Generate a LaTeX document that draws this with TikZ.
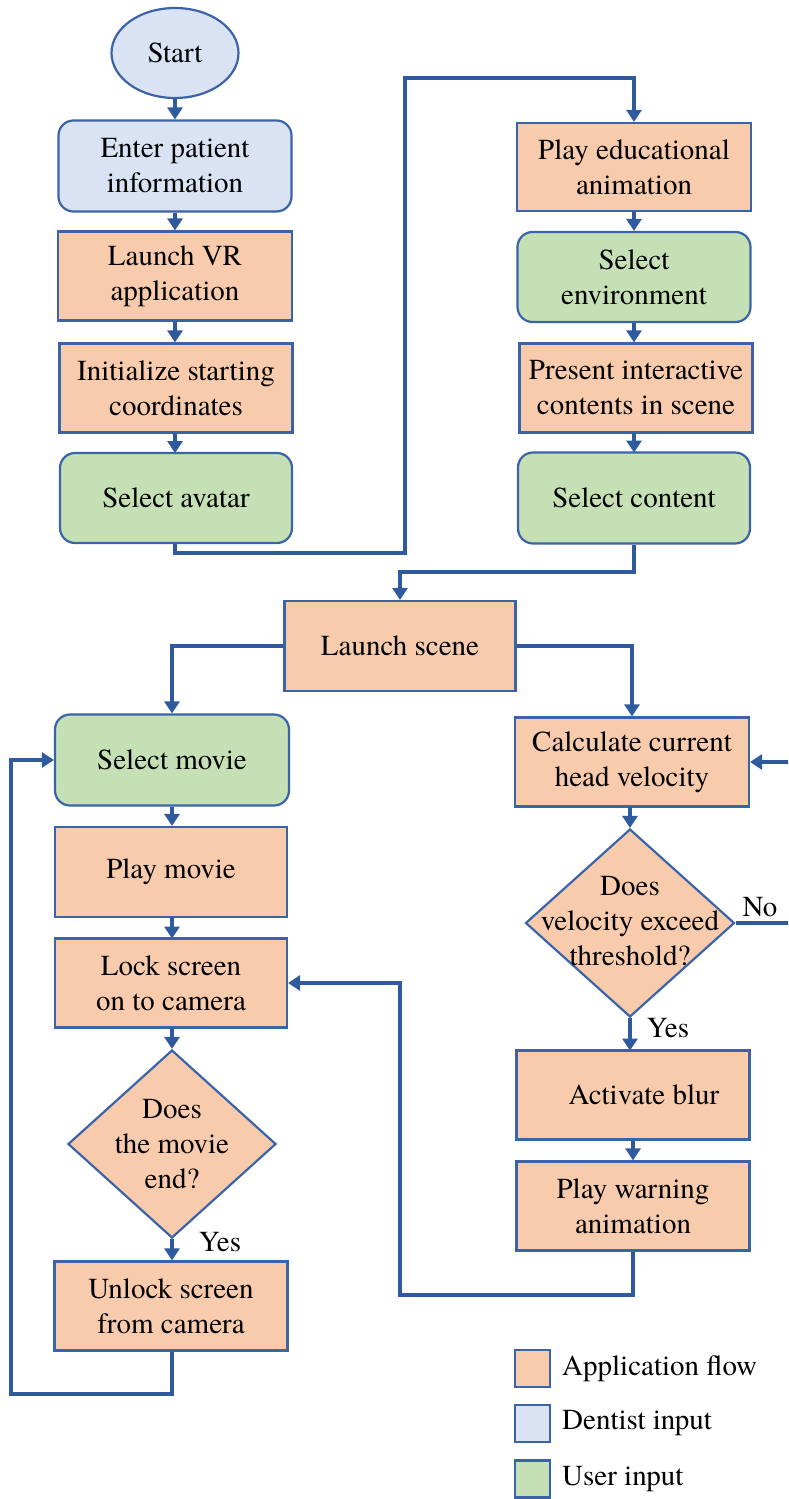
\documentclass[tikz,border=0pt]{standalone}
\usepackage{fontspec}
\setmainfont{TeX Gyre Termes}
\usetikzlibrary{shapes.geometric,arrows.meta}
\definecolor{appfill}{HTML}{F8CBAD}
\definecolor{dentfill}{HTML}{DAE3F3}
\definecolor{userfill}{HTML}{C5E0B4}
\definecolor{edgeblue}{HTML}{3B64A8}
\definecolor{linkblue}{HTML}{2F5A9E}
\begin{document}
\begin{tikzpicture}[x=1pt,y=-1pt,
  font=\fontsize{29}{35}\selectfont,
  basebox/.style={draw=edgeblue, line width=2.2pt, align=center, inner sep=0pt},
  appbox/.style={basebox, fill=appfill, rectangle},
  dentbox/.style={basebox, fill=dentfill, rectangle, rounded corners=15pt},
  userbox/.style={basebox, fill=userfill, rectangle, rounded corners=15pt},
  decbox/.style={draw=edgeblue, line width=2.2pt, fill=appfill, diamond, inner sep=0pt},
  lbl/.style={inner sep=0pt, align=center},
  link/.style={draw=linkblue, line width=3.5pt},
  arr/.style={link, -{Triangle[width=15pt,length=12pt]}},
  legbox/.style={draw=edgeblue, line width=2.2pt, minimum width=35pt, minimum height=37pt, inner sep=0pt}
]
\useasboundingbox (0,0) rectangle (788,1499);
\clip (0,0) rectangle (788,1499);

% left top column
\node[basebox, fill=dentfill, ellipse, minimum width=127pt, minimum height=90pt] (start) at (175,53) {Start};
\node[dentbox, minimum width=233pt, minimum height=91pt] (enter) at (175,166) {Enter patient\\information};
\node[appbox, minimum width=234pt, minimum height=89pt] (launchvr) at (175,276) {Launch VR\\application};
\node[appbox, minimum width=233pt, minimum height=89pt] (init) at (176,388) {Initialize starting\\coordinates};
\node[userbox, minimum width=232pt, minimum height=90pt] (avatar) at (176,498) {Select avatar};

% right top column
\node[appbox, minimum width=234pt, minimum height=88pt] (playedu) at (634,167) {Play educational\\animation};
\node[userbox, minimum width=233pt, minimum height=90pt] (selenv) at (634,277) {Select\\environment};
\node[appbox, minimum width=233pt, minimum height=89pt] (present) at (636,388) {Present interactive\\contents in scene};
\node[userbox, minimum width=232pt, minimum height=91pt] (selcontent) at (634,498) {Select content};

% middle
\node[appbox, minimum width=231pt, minimum height=90pt] (launchscene) at (400,646) {Launch scene};

% left bottom column
\node[userbox, minimum width=234pt, minimum height=91pt] (selmovie) at (172,760) {Select movie};
\node[appbox, minimum width=232pt, minimum height=90pt] (playmovie) at (171,872) {Play movie};
\node[appbox, minimum width=232pt, minimum height=89pt] (lock) at (171,983) {Lock screen\\on to camera};
\node[decbox, minimum width=208pt, minimum height=188pt] (dmovie) at (172,1144) {};
\node[lbl] (dmovietext) at (172,1144) {Does\\the movie\\end?};
\node[appbox, minimum width=233pt, minimum height=89pt] (unlock) at (171,1306) {Unlock screen\\from camera};

% right bottom column
\node[appbox, minimum width=234pt, minimum height=89pt] (calc) at (632,762) {Calculate current\\head velocity};
\node[decbox, minimum width=209pt, minimum height=188pt] (dvel) at (630,923) {};
\node[lbl] (dveltext) at (630,921) {Does\\velocity exceed\\threshold?};
\node[appbox, minimum width=233pt, minimum height=89pt] (blur) at (633,1095) {\hspace*{22pt}Activate blur};
\node[appbox, minimum width=233pt, minimum height=89pt] (warn) at (633,1206) {Play warning\\animation};

% labels
\node[lbl] (yesleft) at (220,1242) {Yes};
\node[lbl] (yesright) at (668,1028) {Yes};
\node[lbl] (noright) at (760,907) {No};

% coordinates for connectors
\coordinate (c1) at (175,553);
\coordinate (c2) at (405,553);
\coordinate (c3) at (405,78);
\coordinate (c4) at (634,78);
\coordinate (c5) at (634,572);
\coordinate (c6) at (400,572);
\coordinate (c7) at (172,646);
\coordinate (c8) at (632,646);
\coordinate (c9) at (172,1394);
\coordinate (c10) at (11,1394);
\coordinate (c11) at (11,760);
\coordinate (c12) at (633,1295);
\coordinate (c13) at (400,1295);
\coordinate (c14) at (400,983);
\coordinate (c15) at (800,923);
\coordinate (c16) at (800,762);

% left top arrows
\draw[arr] (start.south) -- (start.south |- enter.north);
\draw[arr] (enter.south) -- (enter.south |- launchvr.north);
\draw[arr] (launchvr.south) -- (launchvr.south |- init.north);
\draw[arr] (175,432.5) -- (175,453);
% avatar to playedu
\draw[arr] (avatar.south -| c1) -- (c1) -- (c2) -- (c3) -- (c4) -- (playedu.north);
% right top arrows
\draw[arr] (playedu.south) -- (playedu.south |- selenv.north);
\draw[arr] (selenv.south) -- (selenv.south |- present.north);
\draw[arr] (634,432.5) -- (634,452.5);
\draw[arr] (selcontent.south) -- (c5) -- (c6) -- (launchscene.north);
% launch scene split
\draw[arr] (launchscene.west) -- (c7) -- (selmovie.north);
\draw[arr] (launchscene.east) -- (c8) -- (calc.north);
% left bottom arrows
\draw[arr] (selmovie.south) -- (selmovie.south |- playmovie.north);
\draw[arr] (172,917) -- (172,938.5);
\draw[arr] (172,1027.5) -- (dmovie.north);
\draw[arr] (dmovie.south) -- (dmovie.south |- unlock.north);
\draw[arr] (unlock.south -| c9) -- (c9) -- (c10) -- (c11) -- (selmovie.west);
% right bottom arrows
\draw[arr] (630,806.5) -- (dvel.north);
\draw[arr] (dvel.south) -- (630,1050.5);
\draw[arr] (blur.south) -- (blur.south |- warn.north);
\draw[arr] (warn.south) -- (c12) -- (c13) -- (c14) -- (lock.east);
\draw[arr] (dvel.east) -- (c15) -- (c16) -- (calc.east);

% legend
\node[legbox, fill=appfill] (legapp) at (532.5,1368.5) {};
\node[legbox, fill=dentfill] (legdent) at (532.5,1423.5) {};
\node[legbox, fill=userfill] (leguser) at (532.5,1479) {};
\node[lbl, anchor=west] (legapptext) at (562,1368.5) {Application flow};
\node[lbl, anchor=west] (legdenttext) at (562,1423.5) {Dentist input};
\node[lbl, anchor=west] (legusertext) at (562,1479) {User input};
\end{tikzpicture}
\end{document}
